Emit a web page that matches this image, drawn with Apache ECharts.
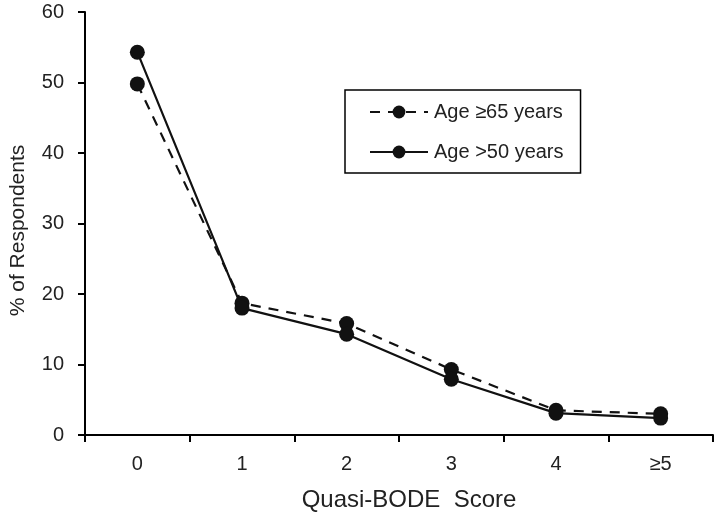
<!DOCTYPE html>
<html>
<head>
<meta charset="utf-8">
<script src="https://cdn.jsdelivr.net/npm/echarts@6/dist/echarts.min.js"></script>
<style>
  html, body { margin: 0; padding: 0; background: #fff; }
  #chart { width: 720px; height: 520px; }
</style>
</head>
<body>
<div id="chart"></div>
<script>
const categories = ['0', '1', '2', '3', '4', '≥5']
const age65 = [49.8, 18.7, 15.8, 9.3, 3.5, 3.0]
const age50 = [54.3, 18.0, 14.3, 7.9, 3.1, 2.4]
const yTicks = [0, 10, 20, 30, 40, 50, 60]

const chart = echarts.init(document.getElementById('chart'), null, { renderer: 'canvas' })

const font = 'Liberation Sans, Arial, sans-serif'

chart.setOption({
  animation: false,
  grid: { left: 83, right: 7, top: 12, bottom: 85 },
  legend: {
    orient: 'vertical',
    left: 345,
    top: 90,
    padding: [12, 17, 11, 24],
    itemGap: 20,
    itemWidth: 58,
    itemHeight: 16,
    borderColor: '#000',
    borderWidth: 1.5,
    textStyle: { fontFamily: font, fontSize: 20, color: '#222', padding: [0, 0, 0, 1] },
    data: ['Age ≥65 years', 'Age >50 years']
  },
  xAxis: {
    type: 'category',
    data: categories,
    boundaryGap: true,
    name: 'Quasi-BODE  Score',
    nameLocation: 'middle',
    nameGap: 53,
    nameTextStyle: { fontFamily: font, fontSize: 24, color: '#222', padding: [0, 0, 0, 20] },
    axisLine: { lineStyle: { color: '#000', width: 2 } },
    axisTick: { show: true, length: 7, lineStyle: { color: '#000', width: 2 } },
    axisLabel: { fontFamily: font, fontSize: 20, color: '#222', margin: 19 },
    splitLine: { show: false }
  },
  yAxis: {
    type: 'value',
    min: yTicks[0],
    max: yTicks[yTicks.length - 1],
    interval: 10,
    name: '% of Respondents',
    nameLocation: 'middle',
    nameGap: 56,
    nameTextStyle: { fontFamily: font, fontSize: 21, color: '#222', padding: [0, 14, 0, 0] },
    axisLine: { show: true, lineStyle: { color: '#000', width: 2 } },
    axisTick: { show: true, length: 7, lineStyle: { color: '#000', width: 2 } },
    axisLabel: { fontFamily: font, fontSize: 20, color: '#222', margin: 21 },
    splitLine: { show: false }
  },
  series: [
    {
      name: 'Age ≥65 years',
      type: 'line',
      data: age65,
      symbol: 'circle',
      symbolSize: 15,
      itemStyle: { color: '#111' },
      lineStyle: { color: '#111', width: 2.2, type: [10, 8] }
    },
    {
      name: 'Age >50 years',
      type: 'line',
      data: age50,
      symbol: 'circle',
      symbolSize: 15,
      itemStyle: { color: '#111' },
      lineStyle: { color: '#111', width: 2.2, type: 'solid' }
    }
  ]
})
</script>
</body>
</html>
